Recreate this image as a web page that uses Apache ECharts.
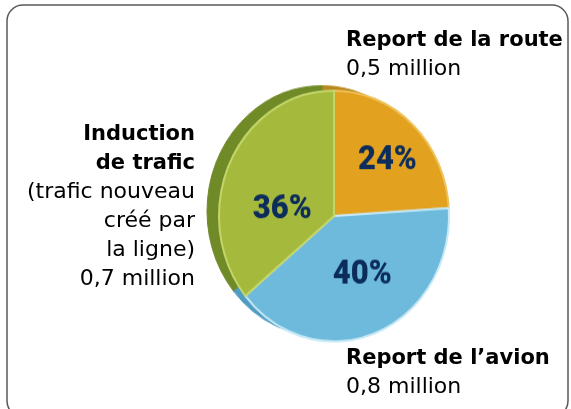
<!DOCTYPE html>
<html>
<head>
<meta charset="utf-8">
<script src="https://cdn.jsdelivr.net/npm/echarts@6/dist/echarts.min.js"></script>
<style>
  html, body { margin: 0; padding: 0; background: #fff; }
  #pie, #main { position: absolute; left: 0; top: 0; width: 571px; height: 409px; }
  /* the pie face is a bit taller than wide in the picture */
  #pie { transform-origin: 334px 216px; transform: scaleY(1.09); }
</style>
</head>
<body>
<div id="pie"></div>
<div id="main"></div>
<script>
// slices, clockwise from 12 o'clock
const shareNames = ['Report de la route', 'Report de l\u2019avion', 'Induction de trafic'];
const shareValues = [24, 40, 36];
const shareLabels = ['24%', '40%', '36%'];

// outside text blocks
const routeLines = ['Report de la route', '0,5 million'];
const avionLines = ['Report de l\u2019avion', '0,8 million'];
const inductionTitle = ['Induction', 'de trafic'];
const inductionNote = ['(trafic nouveau', 'créé par', 'la ligne)', '0,7 million'];

const faceColors = ['#e2a21f', '#6dbadc', '#a5b93c'];
const sideColors = ['#b9871a', '#4f9dc2', '#6f8a27'];
const edgeColors = ['#efc15a', '#c6e8f7', '#c4d66a'];
// small nudges of the % labels from the default inside spot
const labelNudge = [[12, -7], [6, -2], [3, 20]];

const pieChart = echarts.init(document.getElementById('pie'));
pieChart.setOption({
  animation: false,
  series: [
    {
      // back disc, shows as the side of the 3d pie
      type: 'pie',
      silent: true,
      center: [322, 211.5],
      radius: 115,
      startAngle: 90,
      label: { show: false },
      labelLine: { show: false },
      data: shareValues.map((v, i) => ({
        value: v,
        name: shareNames[i],
        itemStyle: { color: sideColors[i], borderColor: sideColors[i], borderWidth: 1 },
      })),
    },
    {
      type: 'pie',
      silent: true,
      center: [334, 216],
      radius: 115,
      startAngle: 90,
      label: {
        show: true,
        position: 'inside',
        formatter: (p) => shareLabels[p.dataIndex],
        fontFamily: 'Roboto',
        fontWeight: 900,
        fontSize: 31,
        color: '#0c2d5c',
      },
      labelLayout: (p) => ({ dx: labelNudge[p.dataIndex][0], dy: labelNudge[p.dataIndex][1] }),
      labelLine: { show: false },
      data: shareValues.map((v, i) => ({
        value: v,
        name: shareNames[i],
        itemStyle: { color: faceColors[i], borderColor: edgeColors[i], borderWidth: 2 },
      })),
    },
  ],
});

const boldFont = { fontFamily: 'DejaVu Sans', fontWeight: 'bold', fontSize: 21, color: '#231f20' };
const plainFont = { fontFamily: 'DejaVu Sans', fontWeight: 'normal', fontSize: 22, color: '#3a3a3a' };

function block(title, note) {
  return title.map((t) => `{b|${t}}`).concat(note.map((t) => `{r|${t}}`)).join('\n');
}

function textBlock(x, y, title, note, align) {
  return {
    type: 'text',
    x: x,
    y: y,
    style: {
      text: block(title, note),
      align: align,
      verticalAlign: 'top',
      lineHeight: 29,
      rich: {
        b: Object.assign({ lineHeight: 29 }, boldFont),
        r: Object.assign({ lineHeight: 29 }, plainFont),
      },
    },
  };
}

const chart = echarts.init(document.getElementById('main'));
chart.setOption({
  animation: false,
  graphic: [
    {
      type: 'rect',
      shape: { x: 7, y: 5, width: 561, height: 412, r: 16 },
      style: { fill: 'none', stroke: '#5a5a5a', lineWidth: 1.5 },
    },
    textBlock(346, 26, routeLines.slice(0, 1), routeLines.slice(1), 'left'),
    textBlock(346, 344, avionLines.slice(0, 1), avionLines.slice(1), 'left'),
    textBlock(195, 120, inductionTitle, inductionNote, 'right'),
  ],
});
</script>
</body>
</html>
